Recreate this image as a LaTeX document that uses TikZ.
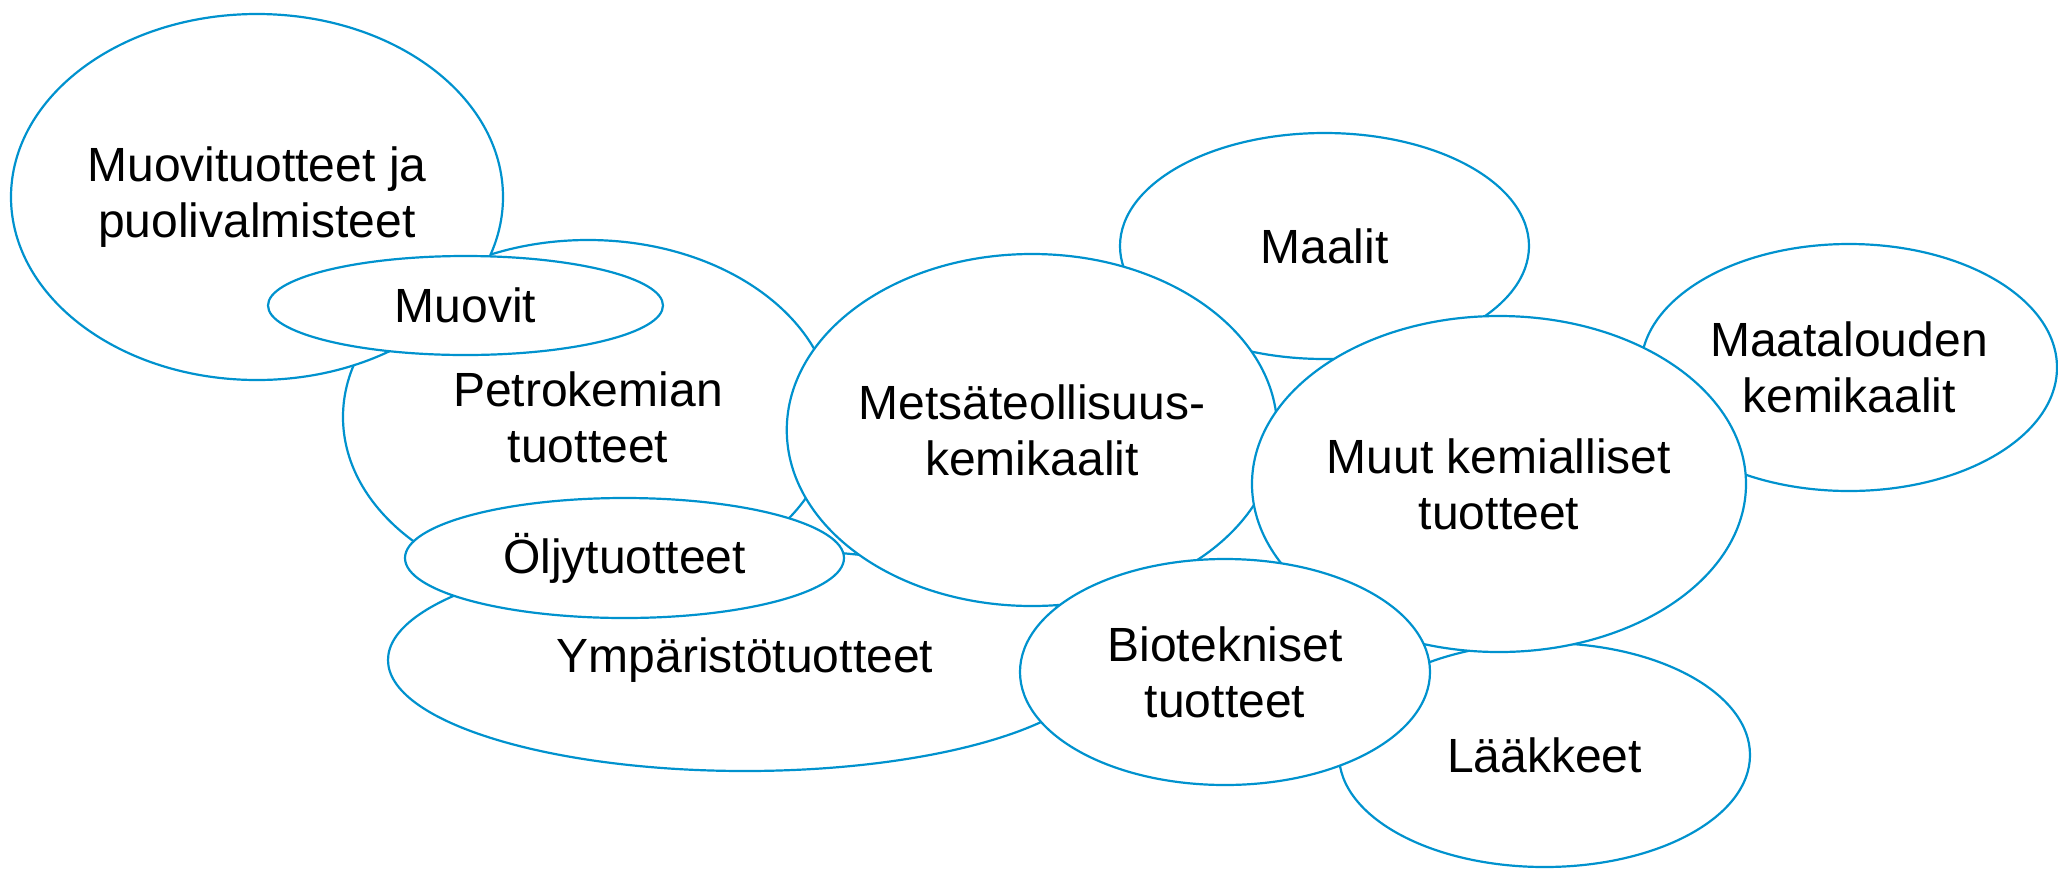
\documentclass[tikz,border=0pt]{standalone}
\usepackage{fontspec}
\setmainfont{Liberation Sans}
\usetikzlibrary{shapes.geometric}
\definecolor{edgeblue}{RGB}{0,146,206}
\tikzset{
  blob/.style={ellipse, draw=edgeblue, line width=1.1pt, fill=white, inner sep=0pt,
    align=center, text=black, font=\fontsize{24}{28}\selectfont},
}
\newcommand{\blobsize}[2]{minimum width=#1pt, minimum height=#2pt}
\begin{document}
\begin{tikzpicture}[x=0.5pt,y=-0.5pt]
\useasboundingbox (0,0) rectangle (2058,869);
\node[blob, minimum width=245pt, minimum height=177pt] (petro) at (588,417) {Petrokemian\\tuotteet};
\node[blob, minimum width=246pt, minimum height=183pt] (muovituot) at (257,197) {Muovituotteet ja\\puolivalmisteet};
\node[blob, minimum width=197.5pt, minimum height=49.5pt] (muovit) at (465.5,305.5) {Muovit};
\node[blob, minimum width=357pt, minimum height=111pt] (ymp) at (745,660) {Ympäristötuotteet};
\node[blob, minimum width=219.5pt, minimum height=60pt] (oljy) at (624.5,558) {Öljytuotteet};
\node[blob, minimum width=204.5pt, minimum height=113pt] (maalit) at (1324.5,246) {Maalit};
\node[blob, minimum width=245pt, minimum height=176pt] (metsa) at (1032,430) {Metsäteollisuus-\\kemikaalit};
\node[blob, minimum width=208pt, minimum height=123.5pt] (maatal) at (1849,367.5) {Maatalouden\\kemikaalit};
\node[blob, minimum width=205.5pt, minimum height=112pt] (laak) at (1544.5,755) {Lääkkeet};
\node[blob, minimum width=247pt, minimum height=168pt] (muut) at (1499,484) {Muut kemialliset\\tuotteet};
\node[blob, minimum width=205pt, minimum height=113pt] (biotek) at (1225,672) {Biotekniset\\tuotteet};
\end{tikzpicture}
\end{document}
